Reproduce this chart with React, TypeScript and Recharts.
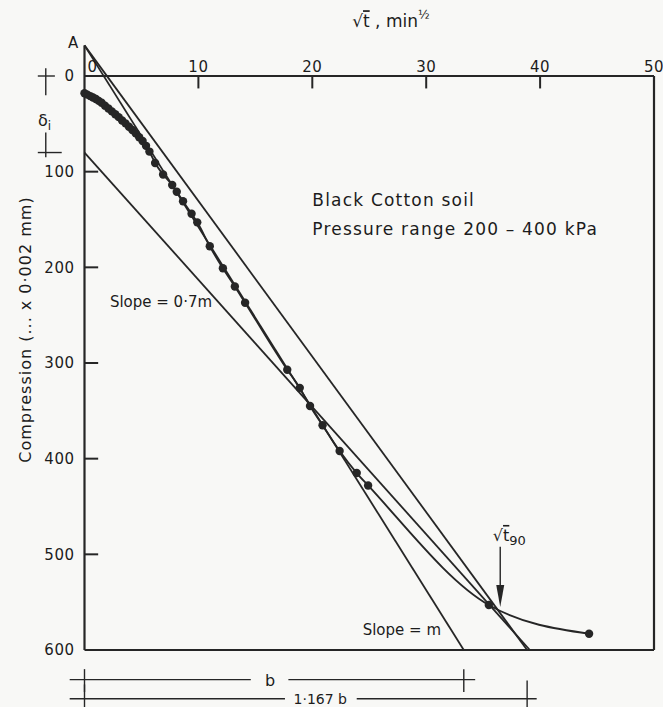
import {
  ComposedChart,
  Line,
  XAxis,
  YAxis,
  ReferenceLine,
  ReferenceDot,
} from "recharts";

// square root of time (min^1/2) and compression (x 0.002 mm)
const sqrtTime = [
  0, 0.25, 0.5, 0.75, 1.0, 1.25, 1.5, 1.8, 2.1, 2.4, 2.7, 3.0, 3.3, 3.6, 3.9,
  4.2, 4.5, 4.8, 5.1, 5.4, 5.7, 6.2, 6.9, 7.7, 8.1, 8.65, 9.4, 9.9, 11.0,
  12.15, 13.2, 14.1, 17.8, 18.9, 19.8, 20.9, 22.4, 23.9, 24.9, 35.5, 44.3,
];
const compression = [
  18, 19.5, 21, 22.5, 24, 26, 28, 31, 34, 37, 40, 43, 46.5, 49.5, 53, 56.5,
  60, 64, 68, 73, 79, 91, 103, 114, 121, 131, 144, 153, 178, 201, 220, 237,
  307, 326, 345, 365, 392, 415, 428, 553, 583,
];

const xTicks = [0, 10, 20, 30, 40, 50];
const yTicks = [0, 100, 200, 300, 400, 500, 600];
const xInnerTicks = [10, 20, 30, 40];
const yInnerTicks = [100, 200, 300, 400, 500];

// construction of the fitting lines
const pointA = { x: 0, y: -32 };
const bValue = 33.3;
const bFactor = 1.167;
const slope07Start = { x: 0, y: 80 };
const slope07End = { x: 39.1, y: 600 };
const t90 = { x: 36.5, y: 555 };

const data = sqrtTime.map((t, i) => ({ t, d: compression[i] }));

const ink = "#262626";
const textInk = "#1c1c1c";

const XTick = ({ x, y, payload }: any) => {
  const first = payload.value === 0;
  return (
    <text
      x={first ? x + 3 : x}
      y={y}
      textAnchor={first ? "start" : "middle"}
      fontSize={15}
      letterSpacing={0.5}
      fill={textInk}
    >
      {payload.value}
    </text>
  );
};

const seg = (key: string, a: any, b: any, w = 1.8) => (
  <ReferenceLine
    key={key}
    segment={[a, b]}
    stroke={ink}
    strokeWidth={w}
    ifOverflow="visible"
  />
);

const note = (key: string, x: number, y: number, draw: (cx: number, cy: number) => any) => (
  <ReferenceDot
    key={key}
    x={x}
    y={y}
    r={0}
    ifOverflow="visible"
    shape={(p: any) => draw(p.cx, p.cy)}
  />
);

export default function App() {
  return (
    <div
      style={{
        position: "absolute",
        left: 0,
        top: 0,
        width: 663,
        height: 707,
        background: "#f8f8f6",
        fontFamily: "DejaVu Sans",
      }}
    >
      <ComposedChart
        width={663}
        height={707}
        data={data}
        margin={{ top: 46, right: 9, bottom: 57, left: 44.5 }}
      >
        <XAxis
          dataKey="t"
          type="number"
          orientation="top"
          domain={[0, 50]}
          ticks={xTicks}
          height={30}
          axisLine={false}
          tickLine={false}
          tickSize={0}
          tickMargin={4}
          tick={<XTick />}
        />
        <YAxis
          type="number"
          reversed
          domain={[0, 600]}
          ticks={yTicks}
          width={40}
          axisLine={false}
          tickLine={false}
          tickSize={0}
          tickMargin={10}
          tick={{ fontSize: 15, fill: textInk, letterSpacing: 0.5 }}
        />

        {/* frame */}
        {seg("left", pointA, { x: 0, y: 600 }, 2.2)}
        {seg("top", { x: 0, y: 0 }, { x: 50, y: 0 }, 2.2)}
        {seg("right", { x: 50, y: 0 }, { x: 50, y: 600 }, 2.2)}
        {seg("bottom", { x: 0, y: 600 }, { x: 50, y: 600 }, 2.2)}
        {xInnerTicks.map((v) => seg("xt" + v, { x: v, y: 0 }, { x: v, y: 13 }, 2))}
        {yInnerTicks.map((v) => seg("yt" + v, { x: 0, y: v }, { x: 1.2, y: v }, 2))}

        {/* construction lines */}
        {seg("slopeM", pointA, { x: bValue, y: 600 })}
        {seg("lineA", pointA, { x: bValue * bFactor, y: 600 })}
        {seg("slope07", slope07Start, slope07End)}

        {/* delta i marker */}
        {seg("di1", { x: -3.4, y: -8 }, { x: -3.4, y: 20 }, 1.4)}
        {seg("di2", { x: -3.4, y: 59 }, { x: -3.4, y: 85 }, 1.4)}
        {seg("di3", { x: -4.1, y: 0 }, { x: -2.6, y: 0 }, 1.4)}
        {seg("di4", { x: -4.1, y: 80 }, { x: -2.0, y: 80 }, 1.4)}

        {/* b and 1.167 b dimensions */}
        {seg("b1", { x: -1.3, y: 631 }, { x: 14.6, y: 631 }, 1.4)}
        {seg("b2", { x: 17.9, y: 631 }, { x: 34.3, y: 631 }, 1.4)}
        {seg("b3", { x: 0, y: 620 }, { x: 0, y: 644 }, 1.4)}
        {seg("b4", { x: bValue, y: 620 }, { x: bValue, y: 644 }, 1.4)}
        {seg("c1", { x: -1.3, y: 651 }, { x: 17.6, y: 651 }, 1.4)}
        {seg("c2", { x: 23.9, y: 651 }, { x: 39.7, y: 651 }, 1.4)}
        {seg("c3", { x: 0, y: 636 }, { x: 0, y: 662 }, 1.4)}
        {seg("c4", { x: bValue * bFactor, y: 632 }, { x: bValue * bFactor, y: 662 }, 1.4)}

        {/* t90 arrow */}
        {seg("arrow", { x: t90.x, y: 492 }, { x: t90.x, y: t90.y - 12 }, 1.4)}
        {note("arrowHead", t90.x, t90.y, (cx, cy) => (
          <polygon
            points={`${cx - 4},${cy - 22} ${cx + 4},${cy - 22} ${cx},${cy}`}
            fill={ink}
          />
        ))}

        <Line
          dataKey="d"
          type="monotone"
          stroke={ink}
          strokeWidth={1.9}
          dot={{ r: 4.2, fill: ink, stroke: ink, strokeWidth: 0 }}
          isAnimationActive={false}
        />

        {note("title", 26.9, -51, (cx, cy) => (
          <text x={cx} y={cy} textAnchor="middle" fontSize={17} fill={textInk}>
            √<tspan style={{ textDecoration: "overline" }}>t</tspan> , min
            <tspan dy={-8} fontSize={12}>½</tspan>
          </text>
        ))}
        {note("A", -1.0, -29.5, (cx, cy) => (
          <text x={cx} y={cy} textAnchor="middle" fontSize={15} fill={textInk}>
            A
          </text>
        ))}
        {note("di", -3.5, 52, (cx, cy) => (
          <text x={cx} y={cy} textAnchor="middle" fontSize={16} fill={textInk}>
            δ<tspan dy={4} fontSize={12}>i</tspan>
          </text>
        ))}
        {note("ylabel", -5.2, 265, (cx, cy) => (
          <text
            x={cx}
            y={cy}
            transform={`rotate(-90 ${cx} ${cy})`}
            textAnchor="middle"
            dominantBaseline="central"
            fontSize={16}
            letterSpacing={1}
            fill={textInk}
          >
            Compression (... x 0·002 mm)
          </text>
        ))}
        {note("soil", 20, 136, (cx, cy) => (
          <text x={cx} y={cy} fontSize={17} letterSpacing={1.2} fill={textInk}>
            Black Cotton soil
          </text>
        ))}
        {note("pressure", 20, 166, (cx, cy) => (
          <text x={cx} y={cy} fontSize={17} letterSpacing={1.2} fill={textInk}>
            Pressure range 200 – 400 kPa
          </text>
        ))}
        {note("s07", 11.2, 241, (cx, cy) => (
          <text x={cx} y={cy} textAnchor="end" fontSize={15} fill={textInk}>
            Slope = 0·7m
          </text>
        ))}
        {note("sm", 31.3, 584, (cx, cy) => (
          <text x={cx} y={cy} textAnchor="end" fontSize={15} fill={textInk}>
            Slope = m
          </text>
        ))}
        {note("t90", 37.3, 486, (cx, cy) => (
          <text x={cx} y={cy} textAnchor="middle" fontSize={16} fill={textInk}>
            √<tspan style={{ textDecoration: "overline" }}>t</tspan>
            <tspan dy={4} fontSize={13}>90</tspan>
          </text>
        ))}
        {note("b", 16.3, 637.5, (cx, cy) => (
          <text x={cx} y={cy} textAnchor="middle" fontSize={16} fill={textInk}>
            b
          </text>
        ))}
        {note("b167", 20.7, 656, (cx, cy) => (
          <text x={cx} y={cy} textAnchor="middle" fontSize={14} fill={textInk}>
            1·167 b
          </text>
        ))}
      </ComposedChart>
    </div>
  );
}
